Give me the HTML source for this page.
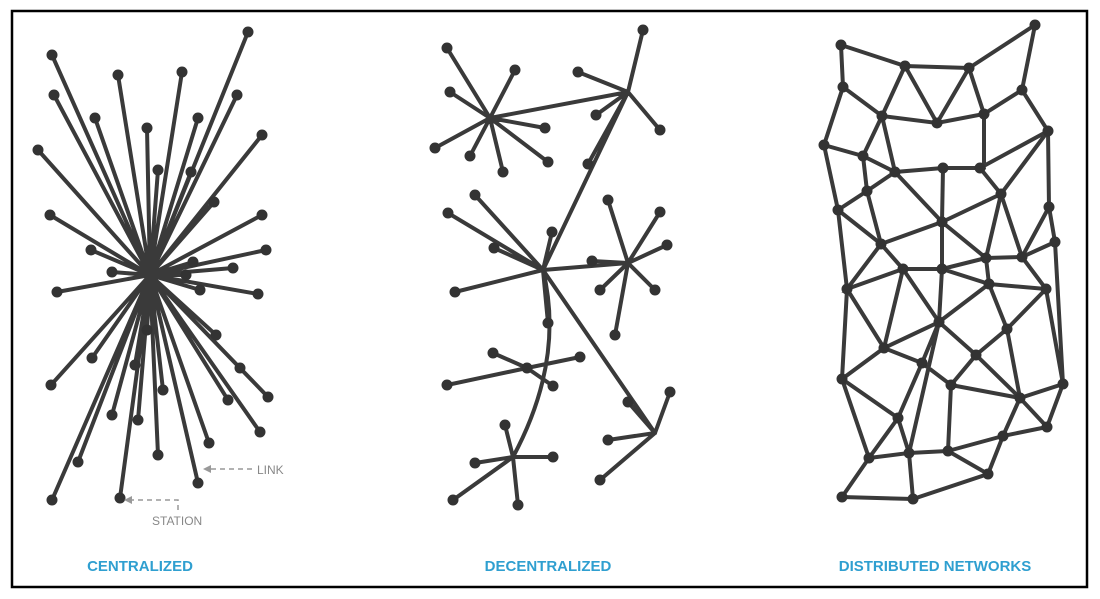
<!DOCTYPE html>
<html><head><meta charset="utf-8"><style>
html,body{margin:0;padding:0;background:#fff;width:1100px;height:599px;overflow:hidden}
svg{position:absolute;left:0;top:0}
.t{font-family:"Liberation Sans",sans-serif;}
</style></head><body>
<svg width="1100" height="599" viewBox="0 0 1100 599">
<rect x="12" y="11" width="1075" height="576" fill="#fff" stroke="#000" stroke-width="2.5"/>
<g stroke="#3a3a3a" stroke-width="4" fill="none" stroke-linecap="round">
<path d="M150 275L52 55M150 275L248 32M150 275L118 75M150 275L182 72M150 275L54 95M150 275L237 95M150 275L95 118M150 275L147 128M150 275L198 118M150 275L38 150M150 275L262 135M150 275L158 170M150 275L191 172M150 275L214 202M150 275L50 215M150 275L262 215M150 275L91 250M150 275L266 250M150 275L233 268M150 275L112 272M150 275L193 262M150 275L57 292M150 275L258 294M150 275L200 290M150 275L147 330M150 275L216 335M150 275L92 358M150 275L135 365M150 275L51 385M150 275L240 368M150 275L163 390M150 275L268 397M150 275L228 400M150 275L112 415M150 275L138 420M150 275L78 462M150 275L209 443M150 275L158 455M150 275L260 432M150 275L52 500M150 275L120 498M150 275L198 483M150 275L186 275"/>
<path d="M490 118L447 48M490 118L515 70M490 118L450 92M490 118L435 148M490 118L470 156M490 118L545 128M490 118L548 162M490 118L503 172M490 118L628 92M628 92L643 30M628 92L578 72M628 92L660 130M628 92L596 115M628 92L588 164M628 92L543 270M543 270L475 195M543 270L448 213M543 270L494 248M543 270L552 232M543 270L455 292M543 270L548 323M543 270L628 263M543 270L655 433M543 270Q565 360 513 457M628 263L608 200M628 263L660 212M628 263L667 245M628 263L592 261M628 263L600 290M628 263L655 290M628 263L615 335M527 368L447 385M527 368L493 353M527 368L580 357M527 368L553 386M655 433L670 392M655 433L628 402M655 433L608 440M655 433L600 480M513 457L453 500M513 457L475 463M513 457L505 425M513 457L553 457M513 457L518 505"/>
<path d="M841 45L905 66L969 68L1035 25L1022 90L1048 131M841 45L843 87L882 116L937 123L984 114L1022 90M905 66L882 116M905 66L937 123L969 68L984 114L984 168M843 87L824 145L863 156L882 116M1048 131L980 168M1048 131L1001 194L980 168L943 168L895 172L863 156M1048 131L1049 207L1055 242M882 116L895 172M824 145L838 210L847 289L842 379M842 497L913 499L988 474L1003 436L1047 427L1063 384L1055 242M863 156L867 191L838 210M867 191L895 172L943 168L942 222L942 269L939 322L909 453L913 499M895 172L942 222L1001 194L1022 257L1049 207M942 222L881 244L838 210M867 191L881 244L903 269L847 289L881 244M942 222L986 258L1001 194M986 258L1022 257L1055 242M942 269L986 258L989 284L1046 289L1022 257M903 269L942 269L989 284L939 322L884 348L847 289M903 269L939 322L976 355L1007 329L989 284M1007 329L1046 289L1063 384L1020 398L1007 329M884 348L922 363L939 322M884 348L842 379L898 418L869 458L842 497M842 379L869 458M922 363L951 385L976 355L1020 398L1047 427M922 363L898 418L909 453L869 458M951 385L948 451L909 453M951 385L1020 398L1003 436L948 451L988 474M884 348L903 269M986 258L942 269"/>
</g>
<g stroke="#333" stroke-width="11" stroke-linecap="round">
<path d="M52 55h0M248 32h0M118 75h0M182 72h0M54 95h0M237 95h0M95 118h0M147 128h0M198 118h0M38 150h0M262 135h0M158 170h0M191 172h0M214 202h0M50 215h0M262 215h0M91 250h0M266 250h0M233 268h0M112 272h0M193 262h0M57 292h0M258 294h0M200 290h0M147 330h0M216 335h0M92 358h0M135 365h0M51 385h0M240 368h0M163 390h0M268 397h0M228 400h0M112 415h0M138 420h0M78 462h0M209 443h0M158 455h0M260 432h0M52 500h0M120 498h0M198 483h0M186 275h0"/>
<path d="M447 48h0M515 70h0M450 92h0M435 148h0M470 156h0M545 128h0M548 162h0M503 172h0M643 30h0M578 72h0M660 130h0M596 115h0M588 164h0M475 195h0M448 213h0M494 248h0M552 232h0M455 292h0M548 323h0M608 200h0M660 212h0M667 245h0M592 261h0M600 290h0M655 290h0M615 335h0M447 385h0M493 353h0M580 357h0M553 386h0M527 368h0M670 392h0M628 402h0M608 440h0M600 480h0M453 500h0M475 463h0M505 425h0M553 457h0M518 505h0"/>
<path d="M841 45h0M905 66h0M969 68h0M1035 25h0M843 87h0M882 116h0M937 123h0M984 114h0M1022 90h0M1048 131h0M824 145h0M863 156h0M895 172h0M943 168h0M980 168h0M867 191h0M1001 194h0M838 210h0M1049 207h0M942 222h0M881 244h0M1055 242h0M986 258h0M1022 257h0M903 269h0M942 269h0M989 284h0M847 289h0M1046 289h0M939 322h0M1007 329h0M884 348h0M976 355h0M922 363h0M842 379h0M951 385h0M1063 384h0M1020 398h0M898 418h0M1047 427h0M1003 436h0M869 458h0M909 453h0M948 451h0M988 474h0M842 497h0M913 499h0"/>
</g>
<g stroke="#999" stroke-width="1.5" fill="none" stroke-dasharray="5,4">
<path d="M252 469H210M178 510V500H130"/>
</g>
<g fill="#999"><path d="M203 469l8-4v8z"/><path d="M124 500l8-4v8z"/></g>
<text class="t" x="257" y="474" font-size="12" fill="#888">LINK</text>
<text class="t" x="152" y="525" font-size="12" fill="#888">STATION</text>
<g class="t" font-size="15" font-weight="bold" fill="#2f9fd0" text-anchor="middle">
<text x="140" y="571">CENTRALIZED</text>
<text x="548" y="571">DECENTRALIZED</text>
<text x="935" y="571">DISTRIBUTED NETWORKS</text>
</g>
</svg>
</body></html>
